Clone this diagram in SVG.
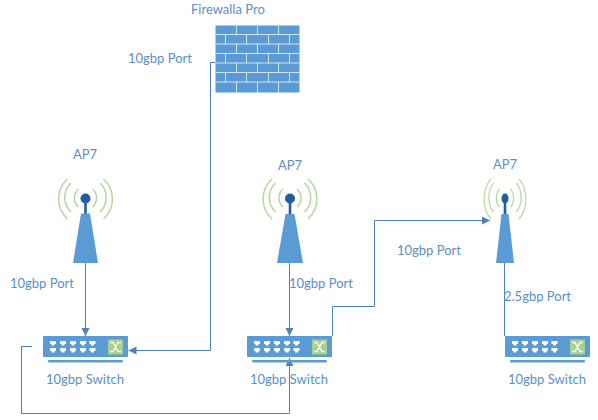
<svg xmlns="http://www.w3.org/2000/svg" width="598" height="420" viewBox="0 0 598 420">
<style>
text{font-family:"Lato","Open Sans","Liberation Sans",sans-serif;font-size:13px;fill:#5b8fc6}
.c{fill:none;stroke:#4f81bd;stroke-width:1}
.a{fill:none;stroke:#b5d69c;stroke-width:1.500}
.b{fill:#5b9bd5}
.d{fill:#1f5f9e}
.w{stroke:#fff;stroke-width:0.800;fill:none;opacity:.9}
.p{fill:#fff}
</style>
<defs>
<marker id="ah" markerUnits="userSpaceOnUse" markerWidth="9" markerHeight="9" refX="8" refY="4" orient="auto"><path d="M0 0L8 4L0 8Z" fill="#4f81bd"/></marker>
<g id="sw">
<rect class="b" x="0" y="0" width="85" height="21" rx="1"/>
<rect class="b" x="5" y="24" width="75" height="2.400" rx="1"/>
<g class="p">
<path d="M7 5h6v3h-1.500v1.500h-3v-1.500h-1.500z"/>
<path d="M17 5h6v3h-1.500v1.500h-3v-1.500h-1.500z"/><path d="M27 5h6v3h-1.500v1.500h-3v-1.500h-1.500z"/><path d="M37 5h6v3h-1.500v1.500h-3v-1.500h-1.500z"/><path d="M46.500 5h6v3h-1.500v1.500h-3v-1.500h-1.500z"/>
<path d="M7 12h6v3h-1.500v1.500h-3v-1.500h-1.500z"/><path d="M17 12h6v3h-1.500v1.500h-3v-1.500h-1.500z"/><path d="M27 12h6v3h-1.500v1.500h-3v-1.500h-1.500z"/><path d="M37 12h6v3h-1.500v1.500h-3v-1.500h-1.500z"/><path d="M46.500 12h6v3h-1.500v1.500h-3v-1.500h-1.500z"/>
</g>
<rect x="65" y="3.500" width="15" height="15" fill="#a9d18e"/>
<path d="M67 6.500h3l5 9h3M67 15.500h3l5-9h3" fill="none" stroke="#fff" stroke-width="1.300"/>
</g>
<g id="arcs">
<path class="a" d="M-7-9A12 12 0 0 0-7 9M7-9A12 12 0 0 1 7 9"/>
<path class="a" d="M-14.500-15A20 20 0 0 0-14.500 14M14.500-15A20 20 0 0 1 14.500 14"/>
<path class="a" d="M-18-19A27 27 0 0 0-18 21M18-19A27 27 0 0 1 18 21"/>
</g>
</defs>
<g id="connectors">
<path class="c" d="M215.500 62.500H210.500V350.500H128.500" marker-end="url(#ah)"/>
<path class="c" d="M85.500 263V336" marker-end="url(#ah)"/>
<path class="c" d="M32 346.500H21.500V413.500H289.500V358" marker-end="url(#ah)"/>
<path class="c" d="M289.500 263V336" marker-end="url(#ah)"/>
<path class="c" d="M332.500 336V306.500H374.500V220.500H490" marker-end="url(#ah)"/>
<path class="c" d="M504.500 263V336"/>
</g>
<g id="firewall">
<rect class="b" x="215.500" y="25.500" width="84" height="67"/>
<path class="w" d="M215.500 34.500H299.500M215.500 44H299.500M215.500 53.500H299.500M215.500 63H299.500M215.500 72.500H299.500M215.500 82H299.500"/>
<path class="w" d="M236.500 25.500V34.500M257.500 25.500V34.500M278.500 25.500V34.500M225.500 34.500V44M246.500 34.500V44M268.500 34.500V44M289.500 34.500V44M236.500 44V53.500M257.500 44V53.500M278.500 44V53.500M225.500 53.500V63M246.500 53.500V63M268.500 53.500V63M289.500 53.500V63M236.500 63V72.500M257.500 63V72.500M278.500 63V72.500M225.500 72.500V82M246.500 72.500V82M268.500 72.500V82M289.500 72.500V82M236.500 82V92.500M257.500 82V92.500M278.500 82V92.500"/>
<text x="191" y="14">Firewalla Pro</text>
<text x="128" y="63">10gbp Port</text>
</g>
<g id="ap1">
<use href="#arcs" transform="translate(85.500 198)"/>
<rect class="d" x="84.200" y="198" width="2.600" height="16"/>
<circle class="d" cx="85.500" cy="198.500" r="5"/>
<path class="b" d="M81 213.500H90L98 263H73Z"/>
<text x="73" y="159">AP7</text>
<text x="10" y="288">10gbp Port</text>
</g>
<g id="ap2">
<use href="#arcs" transform="translate(290 198)"/>
<rect class="d" x="288.700" y="198" width="2.600" height="16"/>
<circle class="d" cx="290" cy="198.500" r="5"/>
<path class="b" d="M285.500 214H294.500L303 263H277Z"/>
<text x="278" y="170">AP7</text>
<text x="289" y="288">10gbp Port</text>
</g>
<g id="ap3">
<use href="#arcs" transform="translate(505 198) scale(0.78 1)"/>
<rect class="d" x="503.700" y="198" width="2.600" height="16"/>
<ellipse class="d" cx="505" cy="198.500" rx="3.500" ry="5"/>
<path class="b" d="M501.500 214H508.500L514 263H496Z"/>
<text x="493" y="169">AP7</text>
<text x="504" y="301">2.5gbp Port</text>
</g>
<g id="switch1">
<use href="#sw" transform="translate(43 336)"/>
<text x="46" y="384">10gbp Switch</text>
</g>
<g id="switch2">
<use href="#sw" transform="translate(247 336)"/>
<text x="250" y="384">10gbp Switch</text>
</g>
<g id="switch3">
<use href="#sw" transform="translate(505 336)"/>
<text x="508" y="384">10gbp Switch</text>
</g>
<text id="link-label" x="397" y="255">10gbp Port</text>
</svg>
